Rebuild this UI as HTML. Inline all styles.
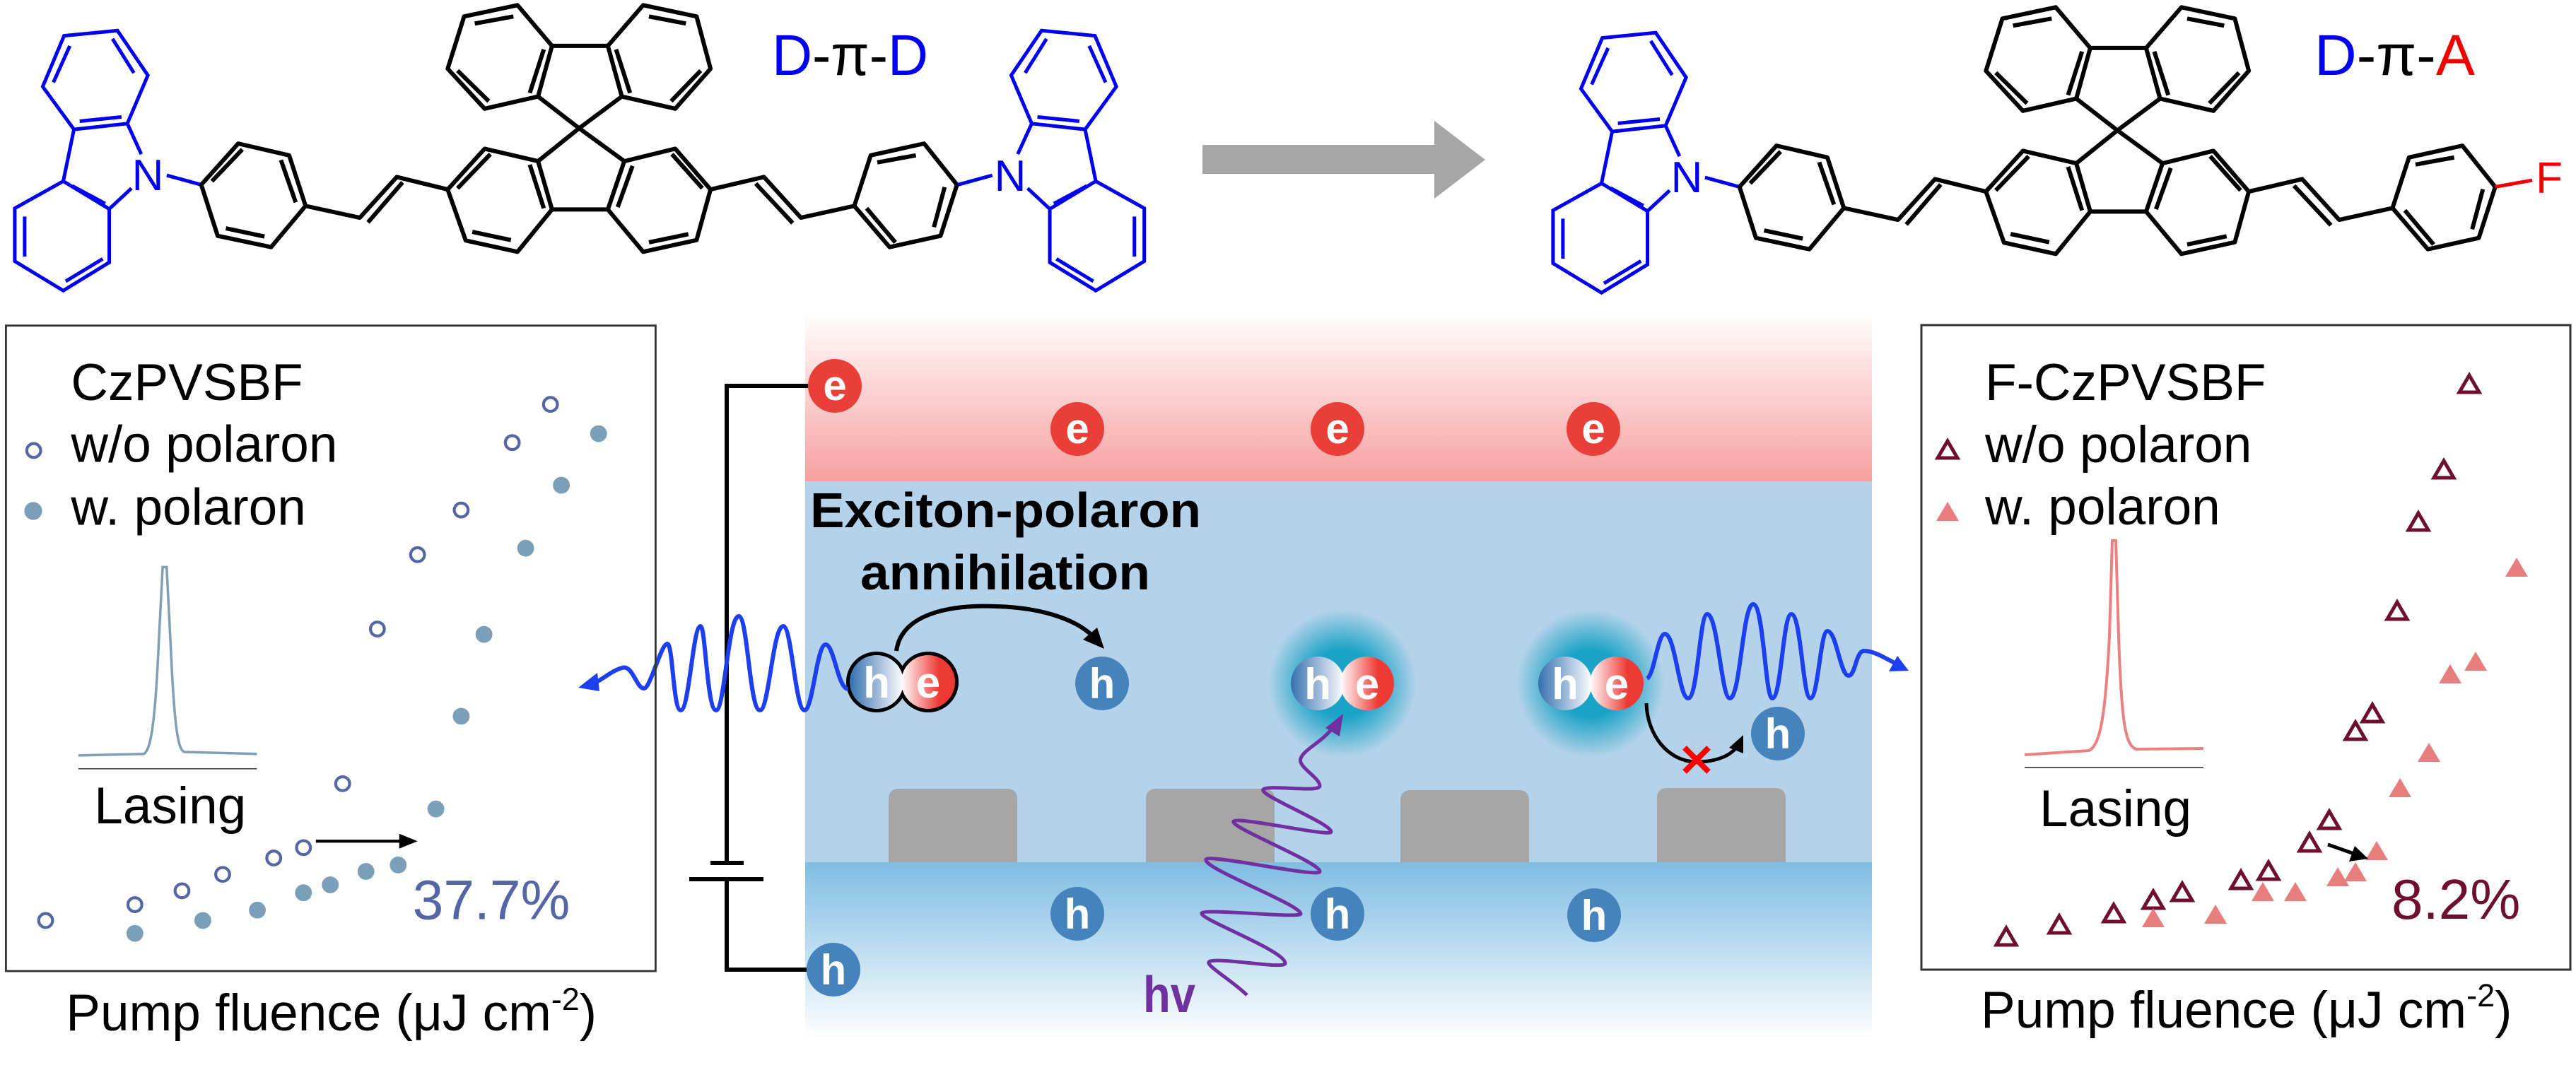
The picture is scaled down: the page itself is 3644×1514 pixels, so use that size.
<!DOCTYPE html>
<html><head><meta charset="utf-8"><style>
html,body{margin:0;padding:0;background:#fff;}
svg{display:block;}
text{font-family:"Liberation Sans",Arial,sans-serif;}
.n{font-family:"Liberation Sans Narrow","Liberation Sans",sans-serif;}
</style></head><body>
<svg width="3644" height="1514" viewBox="0 0 3644 1514" xmlns="http://www.w3.org/2000/svg">
<defs>
<linearGradient id="pink" x1="0" y1="0" x2="0" y2="1">
<stop offset="0" stop-color="#ffffff"/><stop offset="1" stop-color="#f7a09f"/></linearGradient>
<linearGradient id="low" x1="0" y1="0" x2="0" y2="1">
<stop offset="0" stop-color="#7fbde2"/><stop offset="1" stop-color="#ffffff"/></linearGradient>
<linearGradient id="hg" x1="0" y1="0" x2="1" y2="0">
<stop offset="0" stop-color="#3570b0"/><stop offset="1" stop-color="#ffffff"/></linearGradient>
<linearGradient id="eg" x1="0" y1="0" x2="1" y2="0">
<stop offset="0" stop-color="#ffffff"/><stop offset="0.7" stop-color="#ee3a35"/><stop offset="1" stop-color="#ee3a35"/></linearGradient>
<radialGradient id="glow"><stop offset="0.45" stop-color="#1aa3c6"/><stop offset="1" stop-color="#1aa3c6" stop-opacity="0"/></radialGradient>
<path id="to" d="M0,-13 L14,11 L-14,11 Z" fill="none" stroke="#6e0f2e" stroke-width="5" stroke-linejoin="miter"/>
<path id="tf" d="M0,-15 L16,12 L-16,12 Z" fill="#e87d7d"/>
<g id="carb" fill="none" stroke="#0000f0" stroke-width="5" vector-effect="non-scaling-stroke">
<path vector-effect="non-scaling-stroke" d="M143,130 L78,152 L52,368 L90,550 L155,525 L180,320 Z M85,195 L65,350 M137,165 L163,310 M97,515 L148,497 M155,525 L172,655 M90,550 L77,770 M160,800 L133,888 M77,770 L18,885 L18,1110 L77,1235 L133,1115 L133,888 Z M30,920 L30,1090 M80,1195 L125,1100 M88,790 L128,865 M203,745 L245,785"/>
</g>
<g id="core" fill="none" stroke="#000" stroke-width="6" stroke-linejoin="round">
<path vector-effect="non-scaling-stroke" d="M245,785 L290,610 L352,660 L372,875 L330,1050 L265,1002 Z M258,770 L295,635 M342,680 L360,860 M275,970 L322,1005
M372,875 L438,925 L483,752 L545,805 M448,945 L490,775
M545,805 L590,632 L655,685 L672,890 L630,1070 L567,1022 Z M557,800 L597,655 M645,700 L662,885 M575,985 L622,1020
M672,890 L740,890 M672,195 L740,195
M740,890 L760,685 L822,632 L865,805 L848,1020 L783,1070 Z M770,705 L752,880 M818,655 L855,800 M790,1030 L838,995
M655,685 L705,545 L760,685 M655,410 L705,545 L757,410
M655,410 L590,462 L545,292 L565,70 L630,22 L672,195 Z M557,300 L595,430 M578,100 L625,70 M662,210 L645,395
M740,195 L783,22 L848,70 L865,292 L822,462 L757,410 Z M790,70 L835,100 M853,300 L817,430 M750,210 L767,395
M865,805 L930,752 L975,925 L1040,875 M920,780 L965,948
M1040,875 L1060,660 L1125,610 L1165,785 L1145,1002 L1083,1050 Z M1068,690 L1115,660 M1150,795 L1137,965 M1055,885 L1090,1030"/>
</g>
</defs>

<!-- molecules -->
<g transform="matrix(1.162,0,0,0.333,0,0)">
<use href="#carb"/><use href="#core"/>
<g transform="translate(1411,0) scale(-1,1)"><use href="#carb"/></g>
</g>
<g transform="matrix(1.162,0,0,0.333,2176,3)">
<use href="#carb"/><use href="#core"/>
<path d="M1165,785 L1210,757" stroke="#f00000" stroke-width="5" fill="none" vector-effect="non-scaling-stroke"/>
</g>
<text x="209" y="269" font-size="62" fill="#0000f0" text-anchor="middle" class="n">N</text>
<text x="1429" y="270" font-size="62" fill="#0000f0" text-anchor="middle" class="n">N</text>
<text x="2386" y="272" font-size="62" fill="#0000f0" text-anchor="middle" class="n">N</text>
<text x="3606" y="273" font-size="62" fill="#f00000" text-anchor="middle" class="n">F</text>
<text x="1092" y="106" font-size="82" class="n" textLength="221" lengthAdjust="spacingAndGlyphs"><tspan fill="#0000f0">D</tspan><tspan fill="#000">-π-</tspan><tspan fill="#0000f0">D</tspan></text>
<text x="2274" y="106" font-size="82" class="n" textLength="227" lengthAdjust="spacingAndGlyphs" transform="translate(1000,0)"><tspan fill="#0000f0">D</tspan><tspan fill="#000">-π-</tspan><tspan fill="#f00000">A</tspan></text>

<!-- big arrow -->
<path d="M1701,205 L2029,205 L2029,171 L2101,226 L2029,281 L2029,246 L1701,246 Z" fill="#a6a6a6"/>

<!-- device -->
<rect x="1139" y="440" width="1509" height="241" fill="url(#pink)"/>
<rect x="1139" y="681" width="1509" height="539" fill="#b4d3ea"/>
<rect x="1139" y="1220" width="1509" height="250" fill="url(#low)"/>
<g fill="#a6a6a6">
<path d="M1257,1220 V1131 Q1257,1116 1272,1116 H1424 Q1439,1116 1439,1131 V1220 Z"/>
<path d="M1621,1220 V1131 Q1621,1116 1636,1116 H1788 Q1803,1116 1803,1131 V1220 Z"/>
<path d="M1981,1220 V1133 Q1981,1118 1996,1118 H2148 Q2163,1118 2163,1133 V1220 Z"/>
<path d="M2344,1220 V1130 Q2344,1115 2359,1115 H2511 Q2526,1115 2526,1130 V1220 Z"/>
</g>

<!-- circuit -->
<path d="M1143,546 H1028 V1221 M1005,1221 H1052 M975,1244 H1080 M1028,1244 V1372 H1141" fill="none" stroke="#000" stroke-width="6"/>

<!-- glows -->
<circle cx="1899" cy="967" r="105" fill="url(#glow)"/>
<circle cx="2250" cy="967" r="105" fill="url(#glow)"/>

<!-- e circles -->
<g fill="#ea3e38"><circle cx="1181" cy="546" r="38"/><circle cx="1524" cy="607" r="38"/><circle cx="1892" cy="607" r="38"/><circle cx="2254" cy="607" r="38"/></g>
<g font-size="60" font-weight="bold" fill="#fff" text-anchor="middle">
<text x="1181" y="566">e</text><text x="1524" y="627">e</text><text x="1892" y="627">e</text><text x="2254" y="627">e</text>
</g>
<!-- h circles -->
<g fill="#4683bd"><circle cx="1179" cy="1372" r="38"/><circle cx="1524" cy="1293" r="38"/><circle cx="1892" cy="1293" r="38"/><circle cx="2255" cy="1295" r="38"/><circle cx="1559" cy="967" r="38"/><circle cx="2515" cy="1038" r="38"/></g>
<g font-size="60" font-weight="bold" fill="#fff" text-anchor="middle">
<text x="1179" y="1393">h</text><text x="1524" y="1314">h</text><text x="1892" y="1314">h</text><text x="2255" y="1316">h</text><text x="1559" y="988">h</text><text x="2515" y="1059">h</text>
</g>

<!-- exciton pairs -->
<g stroke="#000" stroke-width="10" fill="#000">
<circle cx="1240" cy="965" r="38"/><circle cx="1313" cy="965" r="38"/>
</g>
<circle cx="1240" cy="965" r="38" fill="url(#hg)"/><circle cx="1313" cy="965" r="38" fill="url(#eg)"/>
<circle cx="1864" cy="967" r="38" fill="url(#hg)"/><circle cx="1934" cy="967" r="38" fill="url(#eg)"/>
<circle cx="2214" cy="967" r="38" fill="url(#hg)"/><circle cx="2287" cy="967" r="38" fill="url(#eg)"/>
<g font-size="62" font-weight="bold" fill="#fff" text-anchor="middle">
<text x="1240" y="987">h</text><text x="1313" y="987">e</text>
<text x="1864" y="989">h</text><text x="1934" y="989">e</text>
<text x="2214" y="989">h</text><text x="2287" y="989">e</text>
</g>

<text x="1146" y="746" font-size="70" font-weight="bold" class="n" textLength="553" lengthAdjust="spacingAndGlyphs">Exciton-polaron</text>
<text x="1217" y="834" font-size="70" font-weight="bold" class="n" textLength="410" lengthAdjust="spacingAndGlyphs">annihilation</text>

<!-- curved arrow -->
<path d="M1268,921 C1275,870 1340,855 1410,858 C1480,860 1530,880 1550,905" fill="none" stroke="#000" stroke-width="6"/>
<path d="M1562,918 L1532,905 L1552,888 Z" fill="#000"/>

<!-- blocked arrow -->
<path d="M2329,995 C2330,1040 2360,1078 2400,1078 C2430,1078 2450,1068 2458,1055" fill="none" stroke="#000" stroke-width="5"/>
<path d="M2466,1040 L2466,1066 L2446,1058 Z" fill="#000"/>
<path d="M2383,1058 L2417,1092 M2417,1058 L2383,1092" stroke="#f00" stroke-width="8"/>

<!-- left wave -->
<path d="M1200,975 C1185,975 1180,912 1168,912 C1155,912 1150,1005 1138,1005 C1125,1005 1120,886 1108,886 C1093,886 1088,1005 1075,1005 C1060,1005 1058,872 1045,872 C1030,872 1025,1005 1013,1005 C1000,1005 998,886 991,886 C980,886 975,1005 963,1005 C952,1005 952,911 944,911 C935,911 920,974 911,974 C900,974 895,940 880,945 C862,950 850,965 835,968" fill="none" stroke="#1c3ff0" stroke-width="6"/>
<path d="M818,973 L845,952 L848,978 Z" fill="#1c3ff0"/>

<!-- right wave -->
<path d="M2330,960 C2340,955 2345,897 2355,897 C2370,897 2375,988 2388,988 C2402,988 2404,869 2415,869 C2430,869 2435,988 2447,988 C2462,988 2465,855 2480,855 C2495,855 2497,988 2507,988 C2520,988 2522,869 2534,869 C2548,869 2550,988 2561,988 C2572,988 2575,893 2585,893 C2598,893 2603,956 2615,956 C2625,956 2625,921 2637,921 C2650,921 2665,930 2680,938" fill="none" stroke="#1c3ff0" stroke-width="6"/>
<path d="M2700,949 L2672,950 L2684,928 Z" fill="#1c3ff0"/>

<!-- hv wave -->
<path d="M1764,1408 C1740,1385 1700,1363 1712,1360 C1730,1355 1818,1372 1818,1363 C1818,1345 1695,1300 1700,1292 C1705,1285 1840,1300 1840,1293 C1840,1280 1700,1228 1706,1216 C1712,1208 1867,1243 1867,1233 C1867,1220 1738,1170 1745,1162 C1752,1155 1883,1185 1883,1177 C1883,1165 1780,1125 1787,1117 C1795,1110 1867,1122 1867,1112 C1867,1100 1835,1085 1840,1073 C1845,1060 1870,1050 1885,1030" fill="none" stroke="#7030a0" stroke-width="5"/>
<path d="M1900,1010 L1895,1042 L1875,1030 Z" fill="#7030a0"/>
<text x="1617" y="1432" font-size="72" font-weight="bold" fill="#7030a0" class="n" textLength="74" lengthAdjust="spacingAndGlyphs">hv</text>

<!-- left plot -->
<g transform="translate(0,420) scale(0.7015)">
<rect x="12" y="58" width="1310" height="1302" fill="none" stroke="#333" stroke-width="4"/>
<text x="143" y="208" font-size="104">CzPVSBF</text>
<text x="143" y="333" font-size="104">w/o polaron</text>
<text x="143" y="460" font-size="104">w. polaron</text>
<g fill="none" stroke="#5466a6" stroke-width="6">
<circle cx="68" cy="310" r="14"/>
<circle cx="1110" cy="217" r="14"/><circle cx="1033" cy="294" r="14"/><circle cx="930" cy="430" r="14"/><circle cx="842" cy="520" r="14"/><circle cx="761" cy="670" r="14"/><circle cx="691" cy="982" r="14"/><circle cx="612" cy="1111" r="14"/><circle cx="552" cy="1132" r="14"/><circle cx="449" cy="1165" r="14"/><circle cx="367" cy="1198" r="14"/><circle cx="272" cy="1226" r="14"/><circle cx="92" cy="1258" r="14"/>
</g>
<g fill="#7c9fb9">
<circle cx="67" cy="432" r="18"/>
<circle cx="1207" cy="276" r="17"/><circle cx="1132" cy="380" r="17"/><circle cx="1060" cy="507" r="17"/><circle cx="976" cy="681" r="17"/><circle cx="930" cy="846" r="17"/><circle cx="879" cy="1033" r="17"/><circle cx="803" cy="1146" r="17"/><circle cx="738" cy="1159" r="17"/><circle cx="666" cy="1186" r="17"/><circle cx="612" cy="1202" r="17"/><circle cx="519" cy="1237" r="17"/><circle cx="409" cy="1258" r="17"/><circle cx="272" cy="1284" r="17"/>
</g>
<path d="M158,925 L290,922 C302,915 312,880 320,700 L328,545 L336,545 L344,700 C352,880 360,915 372,918 L518,922" fill="none" stroke="#7f9fb5" stroke-width="5"/>
<path d="M158,952 H518" stroke="#222" stroke-width="2"/>
<text x="190" y="1062" font-size="104">Lasing</text>
<path d="M637,1098 H810" stroke="#000" stroke-width="6"/>
<path d="M842,1098 L805,1083 L805,1113 Z" fill="#000"/>
<text x="832" y="1255" font-size="112" fill="#5466a6">37.7%</text>
<text x="133" y="1480" font-size="104">Pump fluence (μJ cm<tspan font-size="64" dy="-42">-2</tspan><tspan dy="42">)</tspan></text>
</g>

<!-- right plot -->
<rect x="2718" y="460" width="918" height="912" fill="none" stroke="#333" stroke-width="3"/>
<text x="2808" y="566" font-size="73">F-CzPVSBF</text>
<text x="2808" y="654" font-size="73">w/o polaron</text>
<text x="2808" y="742" font-size="73">w. polaron</text>
<use href="#to" x="2755" y="637"/><use href="#tf" x="2755" y="725"/>
<use href="#to" x="3493" y="544"/><use href="#to" x="3457" y="665"/><use href="#to" x="3421" y="739"/><use href="#to" x="3391" y="865"/><use href="#to" x="3356" y="1010"/><use href="#to" x="3332" y="1035"/><use href="#to" x="3295" y="1161"/><use href="#to" x="3267" y="1193"/><use href="#to" x="3209" y="1233"/><use href="#to" x="3170" y="1246"/><use href="#to" x="3087" y="1263"/><use href="#to" x="3046" y="1274"/><use href="#to" x="2990" y="1293"/><use href="#to" x="2913" y="1309"/><use href="#to" x="2838" y="1326"/>
<use href="#tf" x="3560" y="804"/><use href="#tf" x="3502" y="937"/><use href="#tf" x="3466" y="955"/><use href="#tf" x="3436" y="1066"/><use href="#tf" x="3395" y="1116"/><use href="#tf" x="3362" y="1205"/><use href="#tf" x="3332" y="1235"/><use href="#tf" x="3307" y="1242"/><use href="#tf" x="3247" y="1263"/><use href="#tf" x="3201" y="1263"/><use href="#tf" x="3134" y="1295"/><use href="#tf" x="3046" y="1300"/>
<path d="M2864,1068 L2955,1062 C2970,1055 2978,1020 2984,900 L2988,765 L2993,765 L2997,900 C3001,1020 3006,1055 3022,1060 L3117,1059" fill="none" stroke="#ec8080" stroke-width="4"/>
<path d="M2864,1086 H3117" stroke="#222" stroke-width="1.5"/>
<text x="2885" y="1169" font-size="73">Lasing</text>
<path d="M3293,1195 L3330,1208" stroke="#000" stroke-width="5"/>
<path d="M3350,1215 L3323,1219 L3331,1197 Z" fill="#000"/>
<text x="3383" y="1300" font-size="80" fill="#6e0f2e">8.2%</text>
<text x="2802" y="1454" font-size="73">Pump fluence (μJ cm<tspan font-size="45" dy="-30">-2</tspan><tspan dy="30">)</tspan></text>
</svg>
</body></html>
